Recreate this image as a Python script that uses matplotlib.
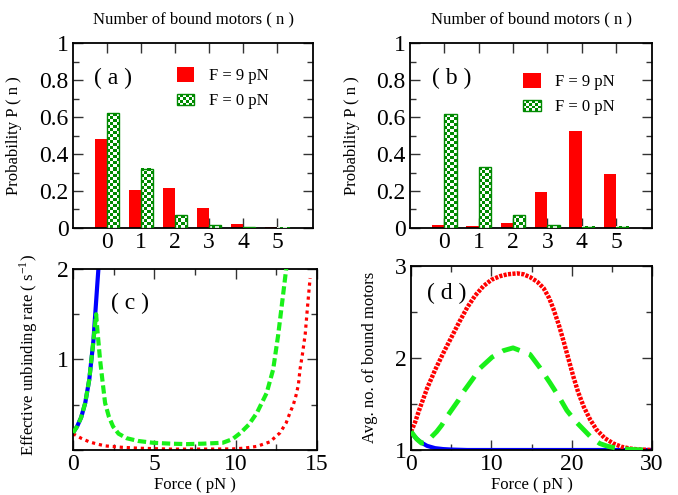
import numpy as np
import matplotlib
matplotlib.use("Agg")
import matplotlib.pyplot as plt
from matplotlib.colors import ListedColormap
from matplotlib.patches import Rectangle
from matplotlib.legend_handler import HandlerBase
from matplotlib.ticker import MultipleLocator

plt.rcParams['font.family'] = ['Liberation Serif', 'DejaVu Serif']
plt.rcParams['mathtext.fontset'] = 'stix'

# ---- data ----
n_motors = [0, 1, 2, 3, 4, 5]
prob_a_f9 = [0.48, 0.205, 0.215, 0.107, 0.02, 0.004]
prob_a_f0 = [0.62, 0.32, 0.07, 0.016, 0.003, 0.002]
prob_b_f9 = [0.014, 0.012, 0.025, 0.195, 0.526, 0.292]
prob_b_f0 = [0.614, 0.328, 0.07, 0.016, 0.008, 0.007]

# panel (c): effective unbinding rate vs force
fc_blue = [0, 0.25, 0.5, 0.75, 1.0, 1.25, 1.5, 1.6]
rc_blue = [0.19, 0.26, 0.36, 0.52, 0.78, 1.2, 1.85, 2.1]
fc_green = [0, 0.25, 0.5, 0.75, 1.0, 1.25, 1.42, 1.5, 1.66, 1.8, 1.97, 2.2, 2.46,
            2.8, 3.3, 4.0, 4.9, 6.0, 7.0, 8.0, 9.2, 9.8, 10.3, 10.8, 11.3, 11.9,
            12.3, 12.6, 12.9, 13.1, 13.3]
rc_green = [0.19, 0.26, 0.36, 0.52, 0.78, 1.2, 1.5, 1.32, 1.0, 0.78, 0.52, 0.37, 0.26,
            0.18, 0.13, 0.1, 0.08, 0.07, 0.065, 0.07, 0.08, 0.12, 0.19, 0.28, 0.41, 0.63,
            0.89, 1.26, 1.7, 2.0, 2.2]
fc_red = [0, 0.5, 1, 1.5, 2, 3, 4, 5, 6, 8, 9.8, 10.5, 11.3, 12.1, 12.72, 13.1,
          13.33, 13.54, 13.7, 13.85, 13.95, 14.1, 14.27, 14.4, 14.57]
rc_red = [0.18, 0.13, 0.09, 0.065, 0.045, 0.03, 0.02, 0.015, 0.01, 0.01, 0.012, 0.02,
          0.04, 0.09, 0.19, 0.3, 0.41, 0.5, 0.6, 0.72, 0.89, 1.06, 1.28, 1.56, 1.9]

# panel (d): average number of bound motors vs force
fd_blue = [0, 0.5, 1, 1.5, 2, 3, 4, 5, 7, 10, 20, 30]
nd_blue = [1.2, 1.14, 1.1, 1.07, 1.045, 1.02, 1.01, 1.005, 1.0, 1.0, 1.0, 1.0]
fd_green = [0, 0.7, 1.3, 1.9, 2.58, 3.2, 3.82, 4.45, 5.9, 6.5, 7.75, 8.6, 10.1, 11.5,
            12.7, 14.8, 16.0, 17.3, 18.4, 19.4, 20.5, 21.5, 22.5, 23.5, 24.5, 25.6,
            27.0, 28.5, 30]
nd_green = [1.2, 1.12, 1.075, 1.08, 1.145, 1.2, 1.27, 1.36, 1.54, 1.63, 1.78, 1.89, 2.01,
            2.08, 2.11, 2.04, 1.9, 1.73, 1.58, 1.43, 1.31, 1.22, 1.13, 1.07, 1.04, 1.02,
            1.008, 1.002, 1.0]
fd_red = [0, 0.5, 1.0, 1.5, 2.0, 3.0, 4.0, 5.0, 6.0, 7.0, 8.0, 9.0, 10, 11.1, 12,
          13.2, 14, 14.8, 15.7, 16.5, 17.2, 17.7, 18.4, 19.0, 19.6, 20.2, 20.8, 21.5,
          22.3, 23.1, 24.1, 25.2, 26.2, 27.3, 28.5, 30]
nd_red = [1.2, 1.3, 1.43, 1.55, 1.67, 1.87, 2.05, 2.22, 2.39, 2.55, 2.68, 2.78, 2.85,
          2.89, 2.91, 2.92, 2.91, 2.88, 2.83, 2.76, 2.65, 2.54, 2.36, 2.18, 1.99, 1.8,
          1.63, 1.47, 1.33, 1.22, 1.13, 1.07, 1.035, 1.015, 1.005, 1.0]

RED = '#ff0000'
DKGREEN = '#008a00'
LIME = '#19f019'
BLUE = '#0000ff'
TICKFS = 17
LABFS = 12


class BoxHandler(HandlerBase):
    # legend key: plain box (red) or checkerboard (green), with its own height
    def __init__(self, checker=False, hscale=1.0):
        super().__init__()
        self.checker = checker
        self.hscale = hscale

    def create_artists(self, legend, orig_handle, xdescent, ydescent,
                       width, height, fontsize, trans):
        h = height * self.hscale
        y0 = -ydescent + (height - h) / 2
        x0 = -xdescent
        if not self.checker:
            return [Rectangle((x0, y0), width, h, facecolor=RED, edgecolor='none',
                              transform=trans)]
        nx, ny = 6, 4
        cw, ch = width / nx, h / ny
        arts = []
        for i in range(nx):
            for j in range(ny):
                fc = DKGREEN if (i + j) % 2 == 0 else 'white'
                arts.append(Rectangle((x0 + i * cw, y0 + j * ch), cw, ch,
                                      facecolor=fc, edgecolor='none', transform=trans))
        arts.append(Rectangle((x0, y0), width, h, fill=False,
                              edgecolor=DKGREEN, lw=1, transform=trans))
        return arts


def style_axes(ax):
    for s in ax.spines.values():
        s.set_linewidth(1.3)
    ax.tick_params(which='both', direction='in', top=True, right=True,
                   labelsize=TICKFS, pad=3, width=1, color='#333333')
    ax.tick_params(which='major', length=7)
    ax.tick_params(which='minor', length=4)


def bar_panel(ax, f9, f0, label, leg_anchor):
    w = 0.36
    xs = np.array(n_motors)
    ax.set_axisbelow(True)
    ax.bar(xs - w / 2, f9, width=w, color=RED, zorder=2)
    gb = ax.bar(xs + w / 2, f0, width=w, color=DKGREEN, zorder=2)
    ax.set_xlim(-1, 6.05)
    ax.set_ylim(0, 1)
    ax.set_xticks(n_motors)
    ax.set_yticks([0, 0.2, 0.4, 0.6, 0.8, 1.0])
    ax.set_yticklabels(['0', '0.2', '0.4', '0.6', '0.8', '1'])
    ax.yaxis.set_minor_locator(MultipleLocator(0.1))
    cmap = ListedColormap(['white', DKGREEN])
    for r in gb:
        x0, h = r.get_x(), r.get_height()
        x1 = x0 + r.get_width()
        p0 = ax.transData.transform((x0, 0))
        p1 = ax.transData.transform((x1, h))
        nrow = max(1, int(round((p1[1] - p0[1]) / 3.0)))
        ncol = max(1, int(round((p1[0] - p0[0]) / 3.0)))
        chk = np.indices((nrow, ncol)).sum(axis=0) % 2
        ax.imshow(chk, extent=(x0, x1, 0, h), origin='lower', cmap=cmap,
                  vmin=0, vmax=1, aspect='auto', interpolation='nearest', zorder=3)
        ax.add_patch(Rectangle((x0, 0), x1 - x0, h, fill=False, edgecolor=DKGREEN,
                               lw=1, zorder=4))
    ax.set_xlim(-1, 6.05)
    ax.set_ylim(0, 1)
    ax.set_title('Number of bound motors ( n )', fontsize=LABFS, pad=14)
    ax.set_ylabel('Probability P ( n )', fontsize=LABFS)
    ax.text(label[1], 0.81, label[0], transform=ax.transAxes, fontsize=TICKFS,
            va='center', ha='left')
    red_h = Rectangle((0, 0), 1, 1)
    chk_h = Rectangle((0, 0), 1, 1)
    ax.legend([red_h, chk_h], ['F = 9 pN', 'F = 0 pN'],
              handler_map={red_h: BoxHandler(False, 1.0),
                           chk_h: BoxHandler(True, 0.78)},
              loc='upper left', bbox_to_anchor=leg_anchor, frameon=False,
              fontsize=LABFS, handlelength=1.05, handleheight=1.0,
              handletextpad=0.85, labelspacing=0.5, borderpad=0, borderaxespad=0)


fig = plt.figure(figsize=(6.78, 4.95), dpi=100)
ax_a = fig.add_axes([0.1077, 0.5394, 0.354, 0.3737])
ax_b = fig.add_axes([0.6047, 0.5394, 0.357, 0.3737])
ax_c = fig.add_axes([0.1077, 0.0909, 0.360, 0.3657])
ax_d = fig.add_axes([0.6062, 0.0909, 0.3555, 0.3717])

for ax in (ax_a, ax_b, ax_c, ax_d):
    style_axes(ax)

bar_panel(ax_a, prob_a_f9, prob_a_f0, ('( a )', 0.0875), (0.433, 0.872))
bar_panel(ax_b, prob_b_f9, prob_b_f0, ('( b )', 0.091), (0.467, 0.84))
ax_a.yaxis.set_label_coords(-0.2125, 0.5)
ax_b.yaxis.set_label_coords(-0.207, 0.5)

# panel (c)
ax_c.plot(fc_blue, rc_blue, color=BLUE, lw=3, zorder=2)
ax_c.plot(fc_green, rc_green, color=LIME, lw=3, dashes=(2.0, 0.9),
          dash_capstyle='butt', zorder=3)
ax_c.plot(fc_red, rc_red, color=RED, lw=2.3, dashes=(1, 1.2),
          dash_capstyle='butt', zorder=2)
ax_c.set_xlim(0, 15)
ax_c.set_ylim(0, 2)
ax_c.xaxis.set_major_locator(MultipleLocator(5))
ax_c.xaxis.set_minor_locator(MultipleLocator(2.5))
ax_c.set_yticks([0, 1, 2])
ax_c.set_yticklabels(['', '1', '2'])
ax_c.yaxis.set_minor_locator(MultipleLocator(0.5))
ax_c.set_xlabel('Force ( pN )', fontsize=LABFS, labelpad=1)
ax_c.set_ylabel(r'Effective unbinding rate ( s$^{\mathregular{-1}}$)', fontsize=LABFS)
ax_c.yaxis.set_label_coords(-0.135, 0.525)
ax_c.text(0.156, 0.81, '( c )', transform=ax_c.transAxes, fontsize=TICKFS,
          va='center', ha='left')

# panel (d)
ax_d.plot(fd_blue, nd_blue, color=BLUE, lw=3, zorder=2)
ax_d.plot(fd_green, nd_green, color=LIME, lw=3.5, dashes=(3.7, 2.1),
          dash_capstyle='butt', zorder=3)
ax_d.plot(fd_red, nd_red, color=RED, lw=3.2, dashes=(0.7, 0.3),
          dash_capstyle='butt', zorder=2)
ax_d.set_xlim(0, 30)
ax_d.set_ylim(1, 3)
ax_d.xaxis.set_major_locator(MultipleLocator(10))
ax_d.xaxis.set_minor_locator(MultipleLocator(5))
ax_d.yaxis.set_major_locator(MultipleLocator(1))
ax_d.yaxis.set_minor_locator(MultipleLocator(0.5))
ax_d.set_xlabel('Force ( pN )', fontsize=LABFS, labelpad=1)
ax_d.set_ylabel('Avg. no. of bound motors', fontsize=LABFS)
ax_d.yaxis.set_label_coords(-0.137, 0.505)
ax_d.text(0.066, 0.853, '( d )', transform=ax_d.transAxes, fontsize=TICKFS,
          va='center', ha='left')

fig.savefig('out.png', dpi=100)
